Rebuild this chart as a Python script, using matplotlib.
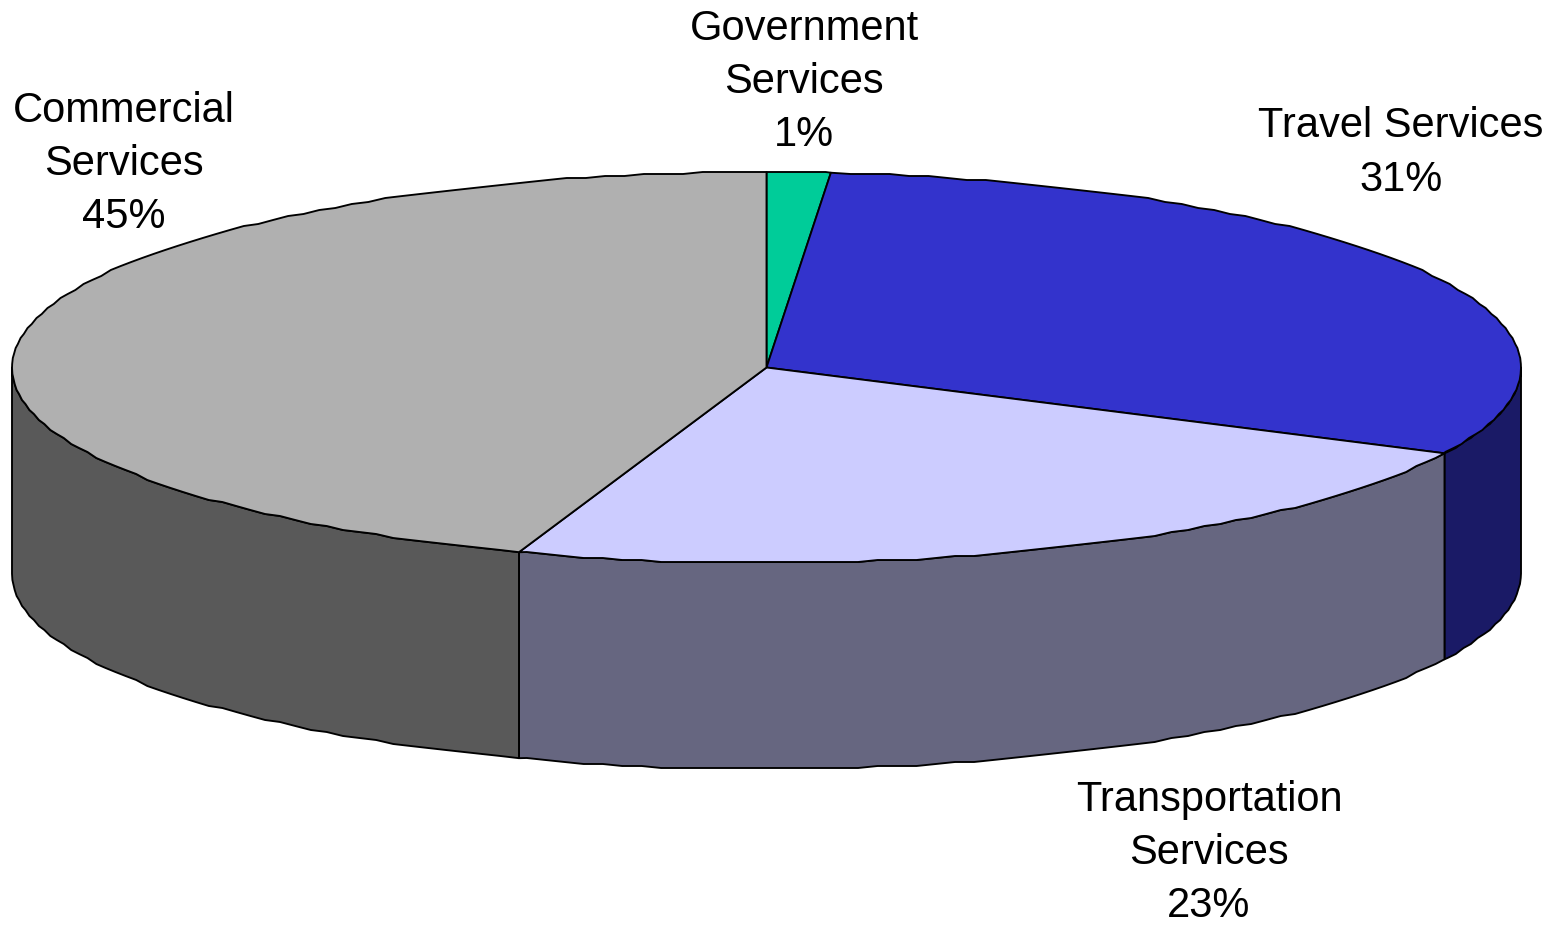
#!/usr/bin/python3

# 3D style pie drawn by hand: matplotlib has no tilted pie, so wedges are
# computed on an ellipse and the front wall is extruded downwards

import numpy as np
import matplotlib
matplotlib.use("Agg")
import matplotlib.pyplot as plt
from matplotlib.patches import Polygon

plt.rcParams['font.family'] = ['Liberation Sans', 'DejaVu Sans']

# slices run clockwise from 12 o'clock
categories = ["Government\nServices", "Travel Services", "Transportation\nServices", "Commercial\nServices"]
shares = [1.36, 30.87, 23.09, 44.68]
pct_labels = ["1%", "31%", "23%", "45%"]
top_colors = ["#00CC99", "#3333CC", "#CCCCFF", "#B0B0B0"]
wall_colors = ["#006650", "#1A1A66", "#666680", "#595959"]

# geometry of the pie in pixels
cx, cy = 766.5, 367.5
rx, ry = 754.5, 195.5
depth = 206
edge_w = 1.35
snap = 2  # the original outline is slightly stepped, not a clean curve

label_pos = [(804, 82), (1401, 153), (1209, 853), (124, 164)]

fig = plt.figure(figsize=(15.6, 9.25), dpi=100)
ax = fig.add_axes([0, 0, 1, 1])
ax.set_xlim(0, 1560)
ax.set_ylim(925, 0)
ax.axis("off")


def rim(a0, a1, dy=0):
    # points on the ellipse, angle in degrees clockwise from the top
    t = np.radians(np.arange(a0, a1, 1.5).tolist() + [a1])
    x = cx + rx * np.sin(t)
    y = cy - ry * np.cos(t)
    # keep the slice corners exact, snap the points between them
    y[1:-1] = np.round(y[1:-1] / snap) * snap
    return np.column_stack((x, y + dy))


edges = np.concatenate(([0], np.cumsum(shares))) / sum(shares) * 360

# walls first, only the part facing the viewer (90 to 270 degrees)
for i in range(len(shares)):
    a0, a1 = max(edges[i], 90), min(edges[i + 1], 270)
    if a1 <= a0:
        continue
    pts = np.vstack((rim(a0, a1), rim(a0, a1, depth)[::-1]))
    ax.add_patch(Polygon(pts, closed=True, facecolor=wall_colors[i],
                         edgecolor="black", linewidth=edge_w, joinstyle="round"))

# top face
for i in range(len(shares)):
    pts = np.vstack(([[cx, cy]], rim(edges[i], edges[i + 1])))
    ax.add_patch(Polygon(pts, closed=True, facecolor=top_colors[i],
                         edgecolor="black", linewidth=edge_w, joinstyle="round"))

for i in range(len(categories)):
    ax.text(label_pos[i][0], label_pos[i][1], categories[i] + "\n" + pct_labels[i],
            ha="center", va="center", ma="center", fontsize=30, linespacing=1.43, color="black")

fig.savefig("out.png", dpi=100, facecolor="white")
